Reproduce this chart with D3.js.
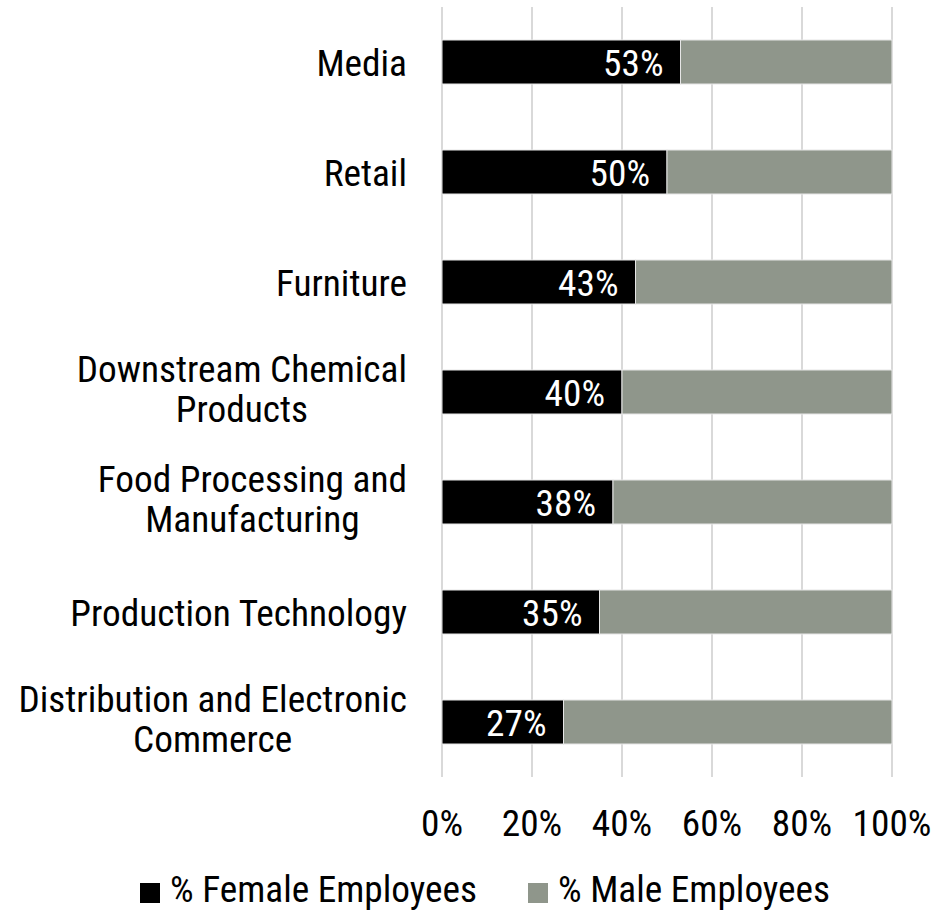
<!DOCTYPE html>
<html>
<head>
<meta charset="utf-8">
<script src="https://cdn.jsdelivr.net/npm/d3@7"></script>
<style>
  html, body { margin: 0; padding: 0; background: #fff; }
  svg text { font-family: "Roboto Condensed", Roboto, sans-serif; font-weight: 400; }
</style>
</head>
<body>
<svg id="chart" width="935" height="910"></svg>
<script>
// Share of female employees by sector (percent); male share is the remainder
const sectors = [
  ["Media"],
  ["Retail"],
  ["Furniture"],
  ["Downstream Chemical", "Products"],
  ["Food Processing and", "Manufacturing"],
  ["Production Technology"],
  ["Distribution and Electronic", "Commerce"]
];
const femalePct = [53, 50, 43, 40, 38, 35, 27];
const malePct = femalePct.map(v => 100 - v);
const tickValues = [0, 20, 40, 60, 80, 100];
const seriesNames = ["% Female Employees", "% Male Employees"];
const seriesColors = ["#000000", "#8f968b"];

const FONT = 37.3;

const svg = d3.select("#chart");
const rows = sectors.map((lines, i) => ({ key: i, lines, female: femalePct[i], male: malePct[i] }));

const x = d3.scaleLinear().domain([0, 100]).range([442, 892]);
const y = d3.scaleBand().domain(rows.map(d => d.key)).range([7, 777])
  .paddingInner(0.6).paddingOuter(0.3);

function addText(g, txt, tx, ty, anchor, fill) {
  return g.append("text")
    .attr("x", tx).attr("y", ty)
    .attr("text-anchor", anchor)
    .attr("font-size", FONT)
    .attr("fill", fill)
    .text(txt);
}

// vertical gridlines
svg.append("g").selectAll("line").data(tickValues).join("line")
  .attr("x1", d => x(d)).attr("x2", d => x(d))
  .attr("y1", 7).attr("y2", 777)
  .attr("stroke", "#d9d9d9").attr("stroke-width", 2);

// stacked bars
const stack = d3.stack().keys(["female", "male"])(rows);
svg.append("g").selectAll("g").data(stack).join("g")
  .attr("fill", (d, i) => seriesColors[i])
  .selectAll("rect").data(d => d).join("rect")
  .attr("x", d => x(d[0]))
  .attr("width", d => x(d[1]) - x(d[0]))
  .attr("y", d => y(d.data.key))
  .attr("height", y.bandwidth())
  .attr("stroke", "#e6e6e6").attr("stroke-width", 1);

// value labels inside the female segment
const lab = svg.append("g");
rows.forEach(d => {
  addText(lab, d3.format(".0f")(d.female) + "%", x(d.female) - 17,
    y(d.key) + y.bandwidth() / 2 + 14, "end", "#fff");
});

// category labels, wrapped lines centred in a right-aligned block
const cat = svg.append("g");
rows.forEach(d => {
  const c = y(d.key) + y.bandwidth() / 2;
  if (d.lines.length === 1) {
    addText(cat, d.lines[0], 407, c + 14, "end", "#000");
  } else {
    const nodes = d.lines.map(t => addText(cat, t, 0, 0, "middle", "#000"));
    const w = d3.max(nodes, n => n.node().getComputedTextLength());
    nodes.forEach((n, j) => n.attr("x", 407 - w / 2).attr("y", c - 10 + j * 40));
  }
});

// x tick labels
const ax = svg.append("g");
tickValues.forEach(t => addText(ax, t + "%", x(t), 836, "middle", "#000"));

// legend
const legX = [140, 528];
const leg = svg.append("g");
seriesNames.forEach((name, i) => {
  leg.append("rect").attr("x", legX[i]).attr("y", 883).attr("width", 20).attr("height", 20)
    .attr("fill", seriesColors[i]);
  addText(leg, name, legX[i] + 30, 902, "start", "#000");
});
</script>
</body>
</html>
